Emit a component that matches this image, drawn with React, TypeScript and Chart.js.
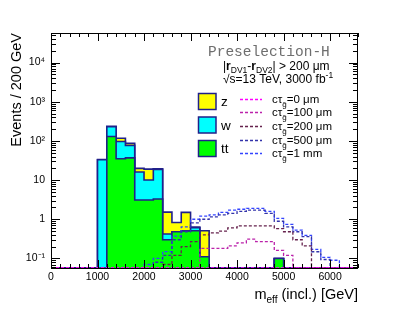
import React, { useEffect, useRef } from 'react';
import { Chart, registerables } from 'chart.js';

Chart.register(...registerables);

// ---- data (200 GeV bins from 0 to 6600 GeV, index i = lower edge i*200) ----
const BIN_WIDTH = 200;
const X_MAX = 6600;
const Y_MIN = 0.057;
const Y_MAX = 57000;

const ttValues = [0, 0, 0, 0, 0, 0, 130, 35, 37, 3.1, 3.1, 3.3, 0.3, 0.48, 0.5, 0.51, 0.11, 0, 0, 0, 0, 0, 0, 0, 0.1, 0, 0, 0, 0, 0, 0, 0, 0];
const wValues = [0, 0, 0, 0, 0, 33, 100, 62, 40, 13, 7, 15.5, 0.12, 0, 0, 0.1, 0, 0, 0, 0, 0, 0, 0, 0, 0, 0, 0, 0, 0, 0, 0, 0, 0];
const zValues = [0, 0, 0, 0, 0, 0.7, 5, 20, 10, 3.8, 9, 0.7, 1.1, 0.35, 1.0, 0.02, 0.4, 0, 0, 0, 0, 0, 0, 0, 0, 0, 0, 0, 0, 0, 0, 0, 0];

const sig0um = [0, 0, 0, 0, 0, 0, 0, 0, 0, 0, 0, 0, 0, 0, 0, 0, 0, 0, 0, 0, 0, 0, 0, 0, 0, 0, 0, 0, 0, 0, 0, 0, 0];
const sig100um = [0, 0, 0, 0, 0, 0, 0, 0, 0, 0, 0, 0, 0, 0, 0, 0.05, 0.18, 0.18, 0.18, 0.21, 0.25, 0.31, 0.27, 0.27, 0.16, 0.12, 0, 0, 0, 0, 0, 0, 0];
const sig200um = [0, 0, 0, 0, 0, 0, 0, 0, 0, 0, 0, 0, 0.07, 0.12, 0.2, 0.27, 0.4, 0.45, 0.5, 0.6, 0.68, 0.68, 0.68, 0.68, 0.58, 0.48, 0.3, 0.21, 0, 0, 0, 0, 0];
const sig500um = [0, 0, 0, 0, 0, 0, 0, 0, 0, 0, 0, 0.08, 0.12, 0.3, 0.48, 0.81, 1.0, 1.15, 1.3, 1.42, 1.6, 1.72, 1.72, 1.42, 0.89, 0.64, 0.48, 0.36, 0.148, 0.094, 0, 0, 0];
const sig1mm = [0, 0, 0, 0, 0, 0, 0, 0, 0, 0, 0.07, 0.1, 0.15, 0.37, 0.64, 1.0, 1.2, 1.3, 1.5, 1.72, 1.8, 1.9, 1.9, 1.6, 1.05, 0.74, 0.53, 0.39, 0.17, 0.106, 0.09, 0, 0];

const xTicks = [0, 1000, 2000, 3000, 4000, 5000, 6000];
const yTicks = [0.1, 1, 10, 100, 1000, 10000];
const yTickLabels = ['10\u207B\u00B9', '1', '10', '10\u00B2', '10\u00B3', '10\u2074'];

const bkgLabels = ['z', 'w', 'tt'];
const bkgColors = ['#ffff00', '#00ffff', '#00ff00'];
const sigLabels = ['=0 \u03BCm', '=100 \u03BCm', '=200 \u03BCm', '=500 \u03BCm', '=1 mm'];
const sigColors = ['#ff00ff', '#bb22aa', '#66224d', '#3333aa', '#3344ff'];

const NAVY = '#20208a';
const SANS = '"Liberation Sans", Arial, sans-serif';

function steps(vals: number[]) {
  const pts: { x: number; y: number }[] = [{ x: 0, y: Y_MIN }];
  vals.forEach((v, i) => pts.push({ x: i * BIN_WIDTH, y: Math.max(v, Y_MIN) }));
  pts.push({ x: vals.length * BIN_WIDTH, y: Y_MIN });
  return pts;
}

type Run = { t: string; size: number; bold?: boolean; dy?: number; family?: string };

function drawRuns(ctx: CanvasRenderingContext2D, runs: Run[], x: number, y: number, align: 'left' | 'right', color: string) {
  const fontOf = (r: Run) => `${r.bold ? 'bold ' : ''}${r.size}px ${r.family || SANS}`;
  let total = 0;
  for (const r of runs) {
    ctx.font = fontOf(r);
    total += ctx.measureText(r.t).width;
  }
  let cx = align === 'right' ? x - total : x;
  ctx.fillStyle = color;
  ctx.textBaseline = 'alphabetic';
  ctx.textAlign = 'left';
  for (const r of runs) {
    ctx.font = fontOf(r);
    ctx.fillText(r.t, cx, y + (r.dy || 0));
    cx += ctx.measureText(r.t).width;
  }
}

const framePlugin = {
  id: 'rootFrame',
  beforeDatasetsDraw(chart: any) {
    const { ctx, chartArea: a } = chart;
    ctx.save();
    ctx.strokeStyle = '#000';
    ctx.lineWidth = 1;
    ctx.strokeRect(a.left + 0.5, a.top + 0.5, a.right - a.left - 1, a.bottom - a.top);
    ctx.restore();
  },
  afterDatasetsDraw(chart: any) {
    const { ctx, chartArea: a, scales } = chart;
    const xs = scales.x;
    const ys = scales.y;
    ctx.save();
    ctx.strokeStyle = '#000';
    ctx.lineWidth = 1;
    ctx.beginPath();
    for (let v = 0; v <= X_MAX; v += BIN_WIDTH) {
      const px = Math.round(xs.getPixelForValue(v)) + 0.5;
      const len = v % 1000 === 0 ? 8 : 4;
      ctx.moveTo(px, a.bottom);
      ctx.lineTo(px, a.bottom - len);
      ctx.moveTo(px, a.top);
      ctx.lineTo(px, a.top + len);
    }
    for (let d = -2; d <= 5; d++) {
      for (let m = 1; m <= 9; m++) {
        const v = m * Math.pow(10, d);
        if (v < Y_MIN || v > Y_MAX) continue;
        const py = Math.round(ys.getPixelForValue(v)) + 0.5;
        const len = m === 1 ? 9 : 5;
        ctx.moveTo(a.left, py);
        ctx.lineTo(a.left + len, py);
        ctx.moveTo(a.right, py);
        ctx.lineTo(a.right - len, py);
      }
    }
    ctx.stroke();

    // x-axis title
    drawRuns(ctx, [
      { t: 'm', size: 14.5 },
      { t: 'eff', size: 10, dy: 4 },
      { t: ' (incl.) [GeV]', size: 14.5 },
    ], a.right, 299, 'right', '#000');

    // header texts
    drawRuns(ctx, [{ t: 'Preselection-H', size: 14.5, family: '"Liberation Mono", "DejaVu Sans Mono", monospace' }], 208, 55.5, 'left', '#6e6e6e');
    drawRuns(ctx, [
      { t: '|', size: 12 },
      { t: 'r', size: 12, bold: true },
      { t: 'DV1', size: 8.5, dy: 3 },
      { t: '-', size: 12 },
      { t: 'r', size: 12, bold: true },
      { t: 'DV2', size: 8.5, dy: 3 },
      { t: '| > 200 \u03BCm', size: 12 },
    ], 223, 69.5, 'left', '#000');
    drawRuns(ctx, [
      { t: '\u221As=13 TeV, 3000 fb', size: 12 },
      { t: '-1', size: 8.5, dy: -5 },
    ], 223, 83, 'left', '#000');

    // background legend boxes
    const boxTops = [93.5, 117, 140.5];
    bkgLabels.forEach((lab, i) => {
      ctx.fillStyle = bkgColors[i];
      ctx.fillRect(198.5, boxTops[i], 17.5, 16);
      ctx.strokeStyle = NAVY;
      ctx.lineWidth = 1.5;
      ctx.strokeRect(198.5, boxTops[i], 17.5, 16);
      drawRuns(ctx, [{ t: lab, size: 13.5 }], 221, boxTops[i] + 12.5, 'left', '#000');
    });

    // signal legend
    sigLabels.forEach((lab, i) => {
      const cy = 98.5 + i * 13.7;
      ctx.strokeStyle = sigColors[i];
      ctx.lineWidth = 1.3;
      ctx.setLineDash([3, 2]);
      ctx.beginPath();
      ctx.moveTo(240, Math.round(cy) + 0.5);
      ctx.lineTo(262, Math.round(cy) + 0.5);
      ctx.stroke();
      ctx.setLineDash([]);
      drawRuns(ctx, [
        { t: 'c\u03C4', size: 11.5 },
        { t: 'g\u0303', size: 8, dy: 4 },
        { t: lab, size: 11.5 },
      ], 272, cy + 4, 'left', '#000');
    });
    ctx.restore();
  },
};

export default function App() {
  const ref = useRef<HTMLCanvasElement>(null);
  useEffect(() => {
    const canvas = ref.current!;
    const cumW = ttValues.map((v, i) => v + wValues[i]);
    const cumZ = cumW.map((v, i) => v + zValues[i]);
    const sigSeries = [sig0um, sig100um, sig200um, sig500um, sig1mm];
    const common = { stepped: 'before' as const, pointRadius: 0, tension: 0 };
    const datasets: any[] = [
      ...sigSeries.map((s, i) => ({
        ...common,
        label: 'sig' + i,
        data: steps(s),
        borderColor: sigColors[i],
        borderWidth: 1.3,
        borderDash: [3, 2],
        fill: false,
        order: 0,
      })),
      { ...common, label: 'tt', data: steps(ttValues), borderColor: NAVY, borderWidth: 1.6, backgroundColor: bkgColors[2], fill: 'start', order: 1 },
      { ...common, label: 'w', data: steps(cumW), borderColor: NAVY, borderWidth: 1.6, backgroundColor: bkgColors[1], fill: 'start', order: 2 },
      { ...common, label: 'z', data: steps(cumZ), borderColor: NAVY, borderWidth: 1.6, backgroundColor: bkgColors[0], fill: 'start', order: 3 },
    ];
    const chart = new Chart(canvas, {
      type: 'line',
      data: { datasets },
      options: {
        responsive: false,
        animation: false,
        devicePixelRatio: 1,
        events: [],
        layout: { padding: { left: 0, top: 33, right: 41, bottom: 0 } },
        plugins: { legend: { display: false }, tooltip: { enabled: false } },
        scales: {
          x: {
            type: 'linear',
            min: 0,
            max: X_MAX,
            afterFit: (s: any) => { s.height = 48; },
            afterBuildTicks: (s: any) => { s.ticks = xTicks.map((v) => ({ value: v })); },
            ticks: {
              callback: (_v: any, i: number) => String(xTicks[i]),
              font: { family: SANS, size: 10.5 },
              color: '#000',
              padding: 3,
              maxRotation: 0,
              autoSkip: false,
            },
            grid: { display: false, drawTicks: false },
            border: { display: false },
          },
          y: {
            type: 'logarithmic',
            min: Y_MIN,
            max: Y_MAX,
            afterFit: (s: any) => { s.width = 51; },
            afterBuildTicks: (s: any) => { s.ticks = yTicks.map((v) => ({ value: v })); },
            ticks: {
              callback: (_v: any, i: number) => yTickLabels[i],
              font: { family: SANS, size: 10.5 },
              color: '#000',
              padding: 6,
              autoSkip: false,
            },
            grid: { display: false, drawTicks: false },
            border: { display: false },
            title: {
              display: true,
              text: 'Events / 200 GeV',
              align: 'end',
              color: '#000',
              font: { family: SANS, size: 14.5 },
              padding: { top: 8, bottom: 0 },
            },
          },
        },
      } as any,
      plugins: [framePlugin],
    });
    return () => chart.destroy();
  }, []);
  return (
    <div style={{ position: 'fixed', left: 0, top: 0, width: 399, height: 316, background: '#fff' }}>
      <canvas ref={ref} width={399} height={316} style={{ width: 399, height: 316, display: 'block' }} />
    </div>
  );
}
